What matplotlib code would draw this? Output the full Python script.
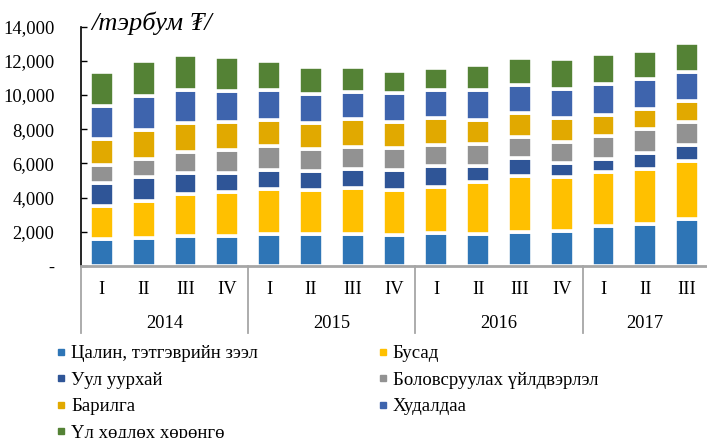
import matplotlib
matplotlib.use("Agg")
import matplotlib.pyplot as plt
from matplotlib.lines import Line2D
from matplotlib.ticker import FuncFormatter
import matplotlib.transforms as mtransforms

years = ["2014", "2015", "2016", "2017"]
quarters = ["I", "II", "III", "IV", "I", "II", "III", "IV",
            "I", "II", "III", "IV", "I", "II", "III"]

series_names = ["Цалин, тэтгэврийн зээл", "Бусад", "Уул уурхай",
                "Боловсруулах үйлдвэрлэл", "Барилга", "Худалдаа",
                "Үл хөдлөх хөрөнгө"]

salary = [1550, 1650, 1760, 1760, 1860, 1860, 1880, 1820, 1940, 1880, 2000, 2060, 2310, 2470, 2720]
other = [1960, 2170, 2450, 2550, 2650, 2590, 2690, 2630, 2690, 3060, 3290, 3170, 3210, 3230, 3410]
mining = [1370, 1410, 1220, 1140, 1120, 1100, 1120, 1180, 1190, 880, 1000, 780, 730, 880, 940]
manufacturing = [1000, 1020, 1260, 1310, 1370, 1310, 1290, 1260, 1260, 1330, 1250, 1270, 1330, 1410, 1330]
construction = [1570, 1730, 1690, 1670, 1550, 1530, 1590, 1550, 1570, 1370, 1390, 1350, 1240, 1180, 1220]
trade = [1880, 1960, 1900, 1780, 1760, 1670, 1630, 1690, 1630, 1780, 1650, 1740, 1800, 1780, 1720]
real_estate = [2000, 2060, 2060, 2000, 1670, 1590, 1450, 1290, 1290, 1430, 1590, 1710, 1750, 1610, 1730]

colors = ["#2E75B6", "#FFC000", "#2F5597", "#929292", "#E1A900", "#3E64AD", "#548235"]

serif = ["Liberation Serif", "DejaVu Serif"]
plt.rcParams["font.family"] = serif

fig = plt.figure(figsize=(7.07, 4.38), dpi=100)
ax = fig.add_axes([81 / 707, 1 - 266 / 438, 627 / 707, (266 - 26.6) / 438])

data = [salary, other, mining, manufacturing, construction, trade, real_estate]
x = list(range(len(quarters)))
bottom = [0] * len(x)
handles = []
for name, vals, c in zip(series_names, data, colors):
    ax.bar(x, vals, bottom=bottom, width=0.57, color=c, edgecolor="white",
           linewidth=2.6, zorder=2)
    bottom = [b + v for b, v in zip(bottom, vals)]
    handles.append(Line2D([], [], linestyle="none", marker="s", markersize=4.5,
                          markerfacecolor=c, markeredgecolor=c, label=name))

ax.set_xlim(-0.5, len(x) - 0.5)
ax.set_ylim(0, 14000)
ax.set_yticks(range(0, 14001, 2000))
ax.yaxis.set_major_formatter(FuncFormatter(lambda v, p: "-" if v == 0 else f"{v:,.0f}"))
ax.tick_params(axis="y", direction="in", length=4, width=1, color="black",
               labelsize=13.3, pad=19)
ax.set_xticks(x)
ax.set_xticklabels(quarters, fontsize=13.3)
ax.tick_params(axis="x", length=0, pad=11)

for s in ["top", "right"]:
    ax.spines[s].set_visible(False)
ax.spines["left"].set_color("black")
ax.spines["left"].set_linewidth(1.2)
ax.spines["bottom"].set_color("#A6A6A6")
ax.spines["bottom"].set_linewidth(2)

trans = mtransforms.blended_transform_factory(ax.transData, ax.transAxes)
sep_bottom = -(333 - 266) / (266 - 26.6)
for xs in [-0.5, 3.5, 7.5, 11.5]:
    ax.plot([xs, xs], [0, sep_bottom], transform=trans, color="#A6A6A6",
            linewidth=1.3, clip_on=False)

year_centers = [1.5, 5.5, 9.5, 13.0]
year_y = -(323 - 266) / (266 - 26.6)
for yc, yl in zip(year_centers, years):
    ax.text(yc, year_y, yl, transform=trans, ha="center", va="center", fontsize=13.3)

fig.text(91 / 707, 1 - 23 / 438, "/тэрбум ₮/", fontsize=19, style="italic",
         ha="left", va="center", family=serif)

order = [0, 2, 4, 6, 1, 3, 5]
leg = fig.legend([handles[i] for i in order], [series_names[i] for i in order],
                 ncol=2, loc="upper left", bbox_to_anchor=(56 / 707, 1 - 345 / 438),
                 frameon=False, fontsize=13.5, handlelength=0.5, handletextpad=0.3,
                 columnspacing=6.4, labelspacing=0.5, borderaxespad=0, borderpad=0)

fig.savefig("out.png", dpi=100)
